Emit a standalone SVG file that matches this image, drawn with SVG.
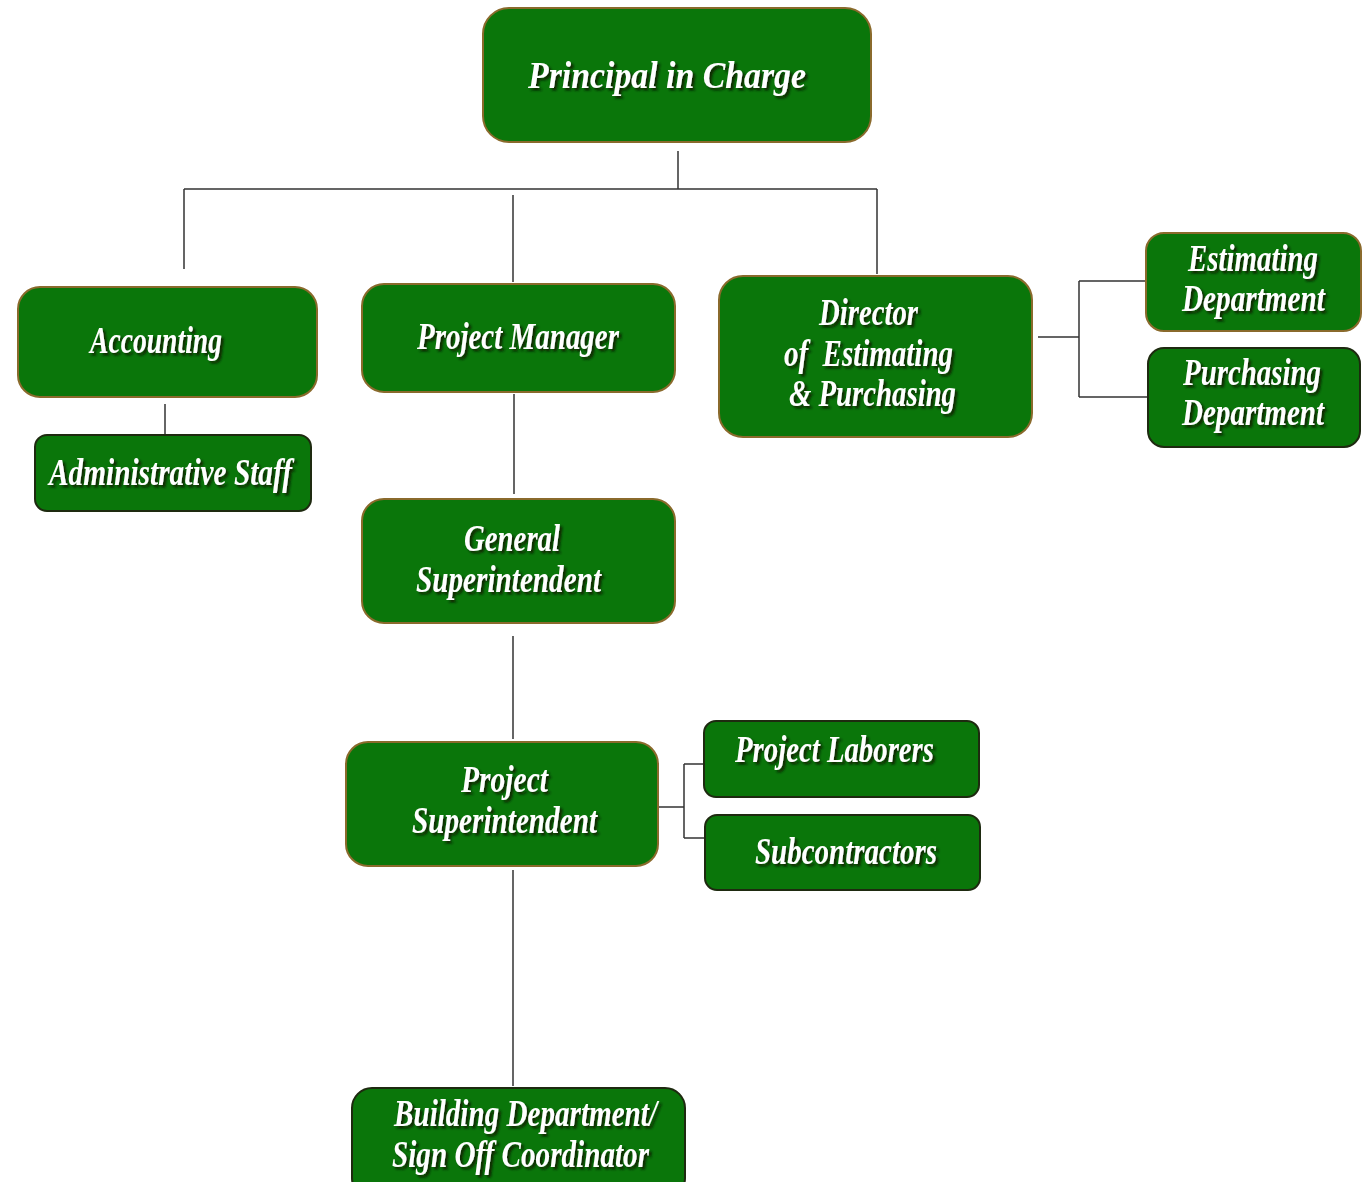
<svg xmlns="http://www.w3.org/2000/svg" width="1366" height="1182" viewBox="0 0 1366 1182">
<defs>
<filter id="ts" x="-10%" y="-30%" width="130%" height="170%">
<feDropShadow dx="2.5" dy="2.5" stdDeviation="1.2" flood-color="#0a1a05" flood-opacity="0.9"/>
</filter>
<style>
.box{fill:#0a760a;stroke:#8a6a2c;stroke-width:2}
.box2{fill:#0a760a;stroke:#1e2a10;stroke-width:2}
.t{font-family:"Liberation Serif","Times New Roman",serif;font-weight:bold;font-style:italic;font-size:38px;fill:#ffffff;filter:url(#ts)}
.c{fill:none;stroke:#333333;stroke-width:1.5}
</style>
</defs>
<rect width="1366" height="1182" fill="#ffffff"/>
<g id="connectors">
<path class="c" d="M678 151V189M184 189H877M184 189V269M513 195V282M877 189V274"/>
<path class="c" d="M165 404V435"/>
<path class="c" d="M514 394V494M513 636V739M513 870V1086"/>
<path class="c" d="M1038 337H1079M1079 281V397M1079 281H1146M1079 397H1148"/>
<path class="c" d="M659 807H684M684 764V838M684 764H704M684 838H705"/>
</g>
<g id="principal">
<rect class="box" x="483" y="8" width="388" height="134" rx="26"/>
<text class="t" x="528" y="88" textLength="278" lengthAdjust="spacingAndGlyphs">Principal in Charge</text>
</g>
<g id="accounting">
<rect class="box" x="18" y="287" width="299" height="110" rx="22"/>
<text class="t" x="90" y="353" textLength="132" lengthAdjust="spacingAndGlyphs">Accounting</text>
</g>
<g id="admin-staff">
<rect class="box2" x="35" y="435" width="276" height="76" rx="12"/>
<text class="t" x="49" y="485" textLength="243" lengthAdjust="spacingAndGlyphs">Administrative Staff</text>
</g>
<g id="project-manager">
<rect class="box" x="362" y="284" width="313" height="108" rx="22"/>
<text class="t" x="417" y="349" textLength="202" lengthAdjust="spacingAndGlyphs">Project Manager</text>
</g>
<g id="director">
<rect class="box" x="719" y="276" width="313" height="161" rx="24"/>
<text class="t" x="819" y="325" textLength="99" lengthAdjust="spacingAndGlyphs">Director</text>
<text class="t" x="784" y="366" textLength="169" lengthAdjust="spacingAndGlyphs">of&#160; Estimating</text>
<text class="t" x="789" y="406" textLength="167" lengthAdjust="spacingAndGlyphs">&amp; Purchasing</text>
</g>
<g id="estimating-dept">
<rect class="box" x="1146" y="233" width="215" height="98" rx="18"/>
<text class="t" x="1188" y="271" textLength="130" lengthAdjust="spacingAndGlyphs">Estimating</text>
<text class="t" x="1182" y="311" textLength="143" lengthAdjust="spacingAndGlyphs">Department</text>
</g>
<g id="purchasing-dept">
<rect class="box2" x="1148" y="348" width="212" height="99" rx="16"/>
<text class="t" x="1183" y="385" textLength="138" lengthAdjust="spacingAndGlyphs">Purchasing</text>
<text class="t" x="1182" y="425" textLength="142" lengthAdjust="spacingAndGlyphs">Department</text>
</g>
<g id="general-superintendent">
<rect class="box" x="362" y="499" width="313" height="124" rx="22"/>
<text class="t" x="464" y="551" textLength="96" lengthAdjust="spacingAndGlyphs">General</text>
<text class="t" x="416" y="592" textLength="185" lengthAdjust="spacingAndGlyphs">Superintendent</text>
</g>
<g id="project-superintendent">
<rect class="box" x="346" y="742" width="312" height="124" rx="22"/>
<text class="t" x="461" y="792" textLength="87" lengthAdjust="spacingAndGlyphs">Project</text>
<text class="t" x="412" y="833" textLength="185" lengthAdjust="spacingAndGlyphs">Superintendent</text>
</g>
<g id="project-laborers">
<rect class="box2" x="704" y="721" width="275" height="76" rx="12"/>
<text class="t" x="735" y="762" textLength="199" lengthAdjust="spacingAndGlyphs">Project Laborers</text>
</g>
<g id="subcontractors">
<rect class="box2" x="705" y="815" width="275" height="75" rx="12"/>
<text class="t" x="755" y="864" textLength="182" lengthAdjust="spacingAndGlyphs">Subcontractors</text>
</g>
<g id="building-dept">
<rect class="box2" x="352" y="1088" width="333" height="110" rx="20"/>
<text class="t" x="394" y="1126" textLength="263" lengthAdjust="spacingAndGlyphs">Building Department/</text>
<text class="t" x="392" y="1167" textLength="257" lengthAdjust="spacingAndGlyphs">Sign Off Coordinator</text>
</g>
</svg>
